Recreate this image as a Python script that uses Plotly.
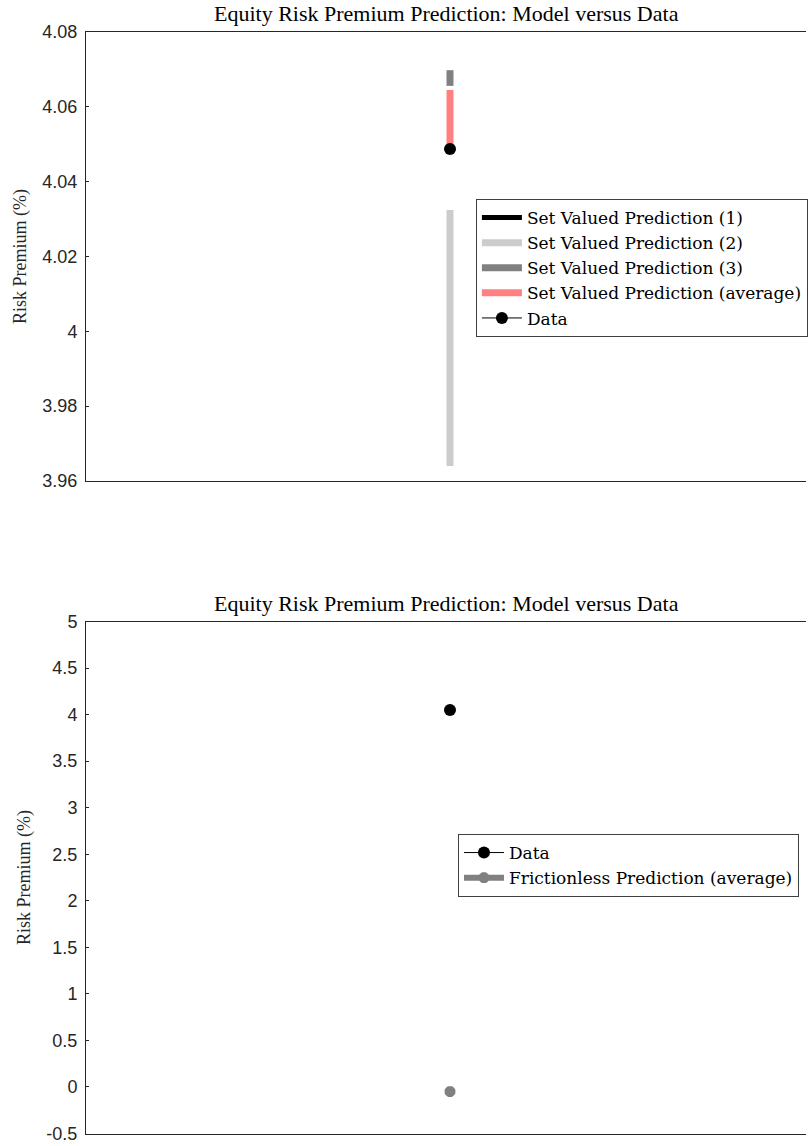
import plotly.graph_objects as go

# ---------------- data ----------------
title_text = "Equity Risk Premium Prediction: Model versus Data"
ytitle = "Risk Premium (%)"

x_pos = [1, 1]  # single category position (both ends of a set-valued segment)

# top panel: set valued predictions (low, high)
svp1 = [3.975, 4.030]     # hidden behind (2)
svp2 = [3.9640, 4.0324]
svp3 = [4.0656, 4.0698]
svp_avg = [4.0487, 4.0645]
data_value = [4.0487]

# bottom panel
frictionless_avg = [-0.05]

top_ticks = [3.96, 3.98, 4.00, 4.02, 4.04, 4.06, 4.08]
top_ticktext = ["3.96", "3.98", "4", "4.02", "4.04", "4.06", "4.08"]
bot_ticks = [-0.5, 0, 0.5, 1, 1.5, 2, 2.5, 3, 3.5, 4, 4.5, 5]
bot_ticktext = ["-0.5", "0", "0.5", "1", "1.5", "2", "2.5", "3", "3.5", "4", "4.5", "5"]

# ---------------- styles ----------------
SERIF = "Liberation Serif"
LEGFONT = "DejaVu Serif, Liberation Serif"
SANS = "Liberation Sans"
AX = "#262626"

fig = go.Figure()

fig.add_trace(go.Scatter(x=x_pos, y=svp1, mode="lines", name="Set Valued Prediction (1)",
                         line=dict(color="black", width=5), xaxis="x", yaxis="y", legend="legend"))
fig.add_trace(go.Scatter(x=x_pos, y=svp2, mode="lines", name="Set Valued Prediction (2)",
                         line=dict(color="#cccccc", width=7), xaxis="x", yaxis="y", legend="legend"))
fig.add_trace(go.Scatter(x=x_pos, y=svp3, mode="lines", name="Set Valued Prediction (3)",
                         line=dict(color="#808080", width=7), xaxis="x", yaxis="y", legend="legend"))
fig.add_trace(go.Scatter(x=x_pos, y=svp_avg, mode="lines", name="Set Valued Prediction (average)",
                         line=dict(color="#ff8080", width=7), xaxis="x", yaxis="y", legend="legend"))
fig.add_trace(go.Scatter(x=x_pos[:1], y=data_value, mode="lines+markers", name="Data",
                         line=dict(color="black", width=1), marker=dict(color="black", size=12),
                         xaxis="x", yaxis="y", legend="legend"))

fig.add_trace(go.Scatter(x=x_pos[:1], y=data_value, mode="lines+markers", name="Data",
                         line=dict(color="black", width=1), marker=dict(color="black", size=12),
                         xaxis="x2", yaxis="y2", legend="legend2"))
fig.add_trace(go.Scatter(x=x_pos[:1], y=frictionless_avg, mode="lines+markers",
                         name="Frictionless Prediction (average)",
                         line=dict(color="#808080", width=6),
                         marker=dict(color="#808080", size=9, symbol="asterisk-open",
                                     line=dict(color="#808080", width=4)),
                         xaxis="x2", yaxis="y2", legend="legend2"))

W, H = 808, 1146.0
L = 86
xrange = [0, 1.978]
xcommon = dict(range=xrange, showticklabels=False, ticks="", showgrid=False, zeroline=False,
               showline=True, mirror=True, linecolor=AX, linewidth=1)
ycommon = dict(showgrid=False, zeroline=False, showline=True, linecolor=AX, mirror=False,
               linewidth=1, ticks="inside", ticklen=3, tickcolor=AX, automargin=False,
               ticklabelstandoff=4,
               tickfont=dict(family=SANS, size=18, color=AX),
               title=dict(text=ytitle, font=dict(family=SERIF, size=18, color=AX), standoff=11))

def fy(py):
    return 1 - py / H

def fx(px):
    return (px - L) / (W - L)

legcommon = dict(xanchor="left", yanchor="top", bgcolor="white", bordercolor="#404040",
                 borderwidth=1, font=dict(family=LEGFONT, size=17, color="black"),
                 itemwidth=40, tracegroupgap=0)

fig.update_layout(
    width=W, height=H,
    margin=dict(l=L, r=0, t=0, b=0),
    paper_bgcolor="white", plot_bgcolor="white",
    xaxis=dict(domain=[0, 1], anchor="y", **xcommon),
    yaxis=dict(domain=[fy(481), fy(32)], anchor="x", range=[3.96, 4.08],
               tickvals=top_ticks, ticktext=top_ticktext, **ycommon),
    xaxis2=dict(domain=[0, 1], anchor="y2", **xcommon),
    yaxis2=dict(domain=[fy(1133.5), fy(621.5)], anchor="x2", range=[-0.5, 5],
                tickvals=bot_ticks, ticktext=bot_ticktext, **ycommon),
    # right-hand inner ticks of the lower panel (no spine visible at the cropped edge)
    yaxis3=dict(overlaying="y2", side="right", anchor="x2", range=[-0.5, 5],
                tickvals=bot_ticks, showticklabels=False, ticks="inside", ticklen=2,
                tickcolor="#808080", showline=False, showgrid=False, zeroline=False,
                automargin=False),
    legend=dict(x=fx(477), y=fy(199), **legcommon),
    legend2=dict(x=fx(459), y=fy(834), **legcommon),
    showlegend=True,
    annotations=[
        dict(text=title_text, xref="paper", yref="paper", x=0.5, y=fy(14),
             xanchor="center", yanchor="middle", showarrow=False,
             font=dict(family=SERIF, size=22, color="black")),
        dict(text=title_text, xref="paper", yref="paper", x=0.5, y=fy(603),
             xanchor="center", yanchor="middle", showarrow=False,
             font=dict(family=SERIF, size=22, color="black")),
    ],
)

fig.write_html("out.html", config={"displayModeBar": False},
               post_script="document.body.style.margin='0px';")
